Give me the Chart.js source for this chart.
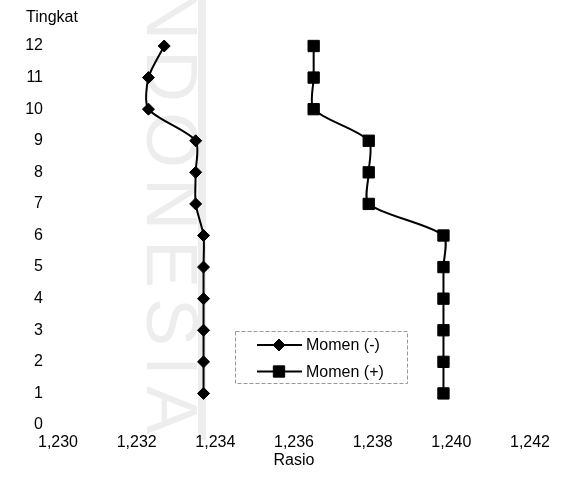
<!DOCTYPE html>
<html>
<head>
<meta charset="utf-8">
<script src="https://cdn.jsdelivr.net/npm/chart.js@4.4.1/dist/chart.umd.min.js"></script>
<style>
  html, body { margin: 0; padding: 0; background: #fff; }
  #wrap { width: 562px; height: 481px; position: relative; }
</style>
</head>
<body>
<div id="wrap"><canvas id="c" width="562" height="481"></canvas></div>
<script>
// Storey level (Tingkat) and the ratio (Rasio) at each level
const tingkat = [1, 2, 3, 4, 5, 6, 7, 8, 9, 10, 11, 12];
const momenNegatif = [1.2337, 1.2337, 1.2337, 1.2337, 1.2337, 1.2337, 1.2335, 1.2335, 1.2335, 1.2323, 1.2323, 1.2327];
const momenPositif = [1.2398, 1.2398, 1.2398, 1.2398, 1.2398, 1.2398, 1.2379, 1.2379, 1.2379, 1.2365, 1.2365, 1.2365];
const seriesLabels = ['Momen (-)', 'Momen (+)'];
const xTickValues = [1.230, 1.232, 1.234, 1.236, 1.238, 1.240, 1.242];
const yTickValues = [0, 1, 2, 3, 4, 5, 6, 7, 8, 9, 10, 11, 12];
const xTitle = 'Rasio';
const yTitle = 'Tingkat';

const FONT = '"Liberation Sans", Arial, sans-serif';

const toPoints = (vals) => vals.map((v, i) => ({ x: v, y: tingkat[i] }));

// White page, faint background lettering
const backdrop = {
  id: 'backdrop',
  beforeDraw(chart) {
    const ctx = chart.ctx;
    ctx.save();
    ctx.fillStyle = '#fff';
    ctx.fillRect(0, 0, chart.width, chart.height);
    ctx.fillStyle = '#ededed';
    ctx.fillRect(198, 0, 8, 440);
    ctx.translate(147, 0);
    ctx.rotate(Math.PI / 2);
    ctx.font = '72px ' + FONT;
    ctx.textBaseline = 'alphabetic';
    let pos = -42;
    for (const ch of 'INDONESIA') {
      ctx.fillText(ch, pos, 0);
      pos += ctx.measureText(ch).width + 10;
    }
    ctx.restore();
  }
};

// Axis caption above the vertical axis and the boxed legend
const annotations = {
  id: 'annotations',
  afterDraw(chart) {
    const ctx = chart.ctx;
    ctx.save();
    ctx.fillStyle = '#000';
    ctx.font = '16px ' + FONT;
    ctx.textAlign = 'left';
    ctx.textBaseline = 'middle';
    ctx.fillText(yTitle, 26, 18);

    const x0 = 235, y0 = 331, w = 172, h = 52;
    ctx.fillStyle = '#fff';
    ctx.fillRect(x0, y0, w, h);
    ctx.setLineDash([4, 2]);
    ctx.strokeStyle = '#999';
    ctx.lineWidth = 1;
    ctx.strokeRect(x0 + 0.5, y0 + 0.5, w, h);
    ctx.setLineDash([]);

    chart.data.datasets.forEach((ds, i) => {
      const y = 345 + i * 26.5;
      ctx.strokeStyle = ds.borderColor;
      ctx.lineWidth = ds.borderWidth;
      ctx.beginPath();
      ctx.moveTo(257, y);
      ctx.lineTo(302, y);
      ctx.stroke();
      ctx.fillStyle = ds.pointBackgroundColor;
      ctx.strokeStyle = ds.pointBorderColor;
      ctx.lineWidth = 1;
      Chart.helpers.drawPoint(ctx, {
        pointStyle: ds.pointStyle, rotation: 0,
        radius: ds.pointRadius, borderWidth: 1
      }, 279, y);
      ctx.fillStyle = '#000';
      ctx.font = '16px ' + FONT;
      ctx.textBaseline = 'middle';
      ctx.fillText(ds.label, 306, y + 1);
    });
    ctx.restore();
  }
};

const commonDataset = {
  showLine: true,
  borderColor: '#000',
  borderWidth: 2,
  tension: 0.25,
  pointBackgroundColor: '#000',
  pointBorderColor: '#000',
  pointBorderWidth: 1,
  clip: false
};

new Chart(document.getElementById('c'), {
  type: 'scatter',
  data: {
    datasets: [
      Object.assign({}, commonDataset, {
        label: seriesLabels[0],
        data: toPoints(momenNegatif),
        pointStyle: 'rectRot',
        pointRadius: 6
      }),
      Object.assign({}, commonDataset, {
        label: seriesLabels[1],
        data: toPoints(momenPositif),
        pointStyle: 'rect',
        pointRadius: 8
      })
    ]
  },
  options: {
    responsive: false,
    animation: false,
    events: [],
    layout: { padding: { top: 46, right: 32, bottom: 0, left: 0 } },
    plugins: {
      legend: { display: false },
      tooltip: { enabled: false }
    },
    scales: {
      x: {
        type: 'linear',
        min: xTickValues[0],
        max: xTickValues[xTickValues.length - 1],
        grid: { display: false, drawTicks: false },
        border: { display: false },
        afterBuildTicks: (s) => { s.ticks = xTickValues.map(v => ({ value: v })); },
        afterFit: (s) => { s.height = 56; },
        ticks: {
          autoSkip: false,
          maxRotation: 0,
          padding: 8,
          color: '#000',
          font: { family: FONT, size: 16 },
          callback: (v) => Number(v).toFixed(3).replace('.', ',')
        },
        title: {
          display: true,
          text: xTitle,
          color: '#000',
          font: { family: FONT, size: 16 },
          padding: { top: 0, bottom: 11 }
        }
      },
      y: {
        type: 'linear',
        min: yTickValues[0],
        max: yTickValues[yTickValues.length - 1],
        grid: { display: false, drawTicks: false },
        border: { display: false },
        afterBuildTicks: (s) => { s.ticks = yTickValues.map(v => ({ value: v })); },
        afterFit: (s) => { s.width = 58; },
        ticks: {
          padding: 15,
          color: '#000',
          font: { family: FONT, size: 16 },
          callback: (v) => String(v)
        }
      }
    }
  },
  plugins: [backdrop, annotations]
});
</script>
</body>
</html>
